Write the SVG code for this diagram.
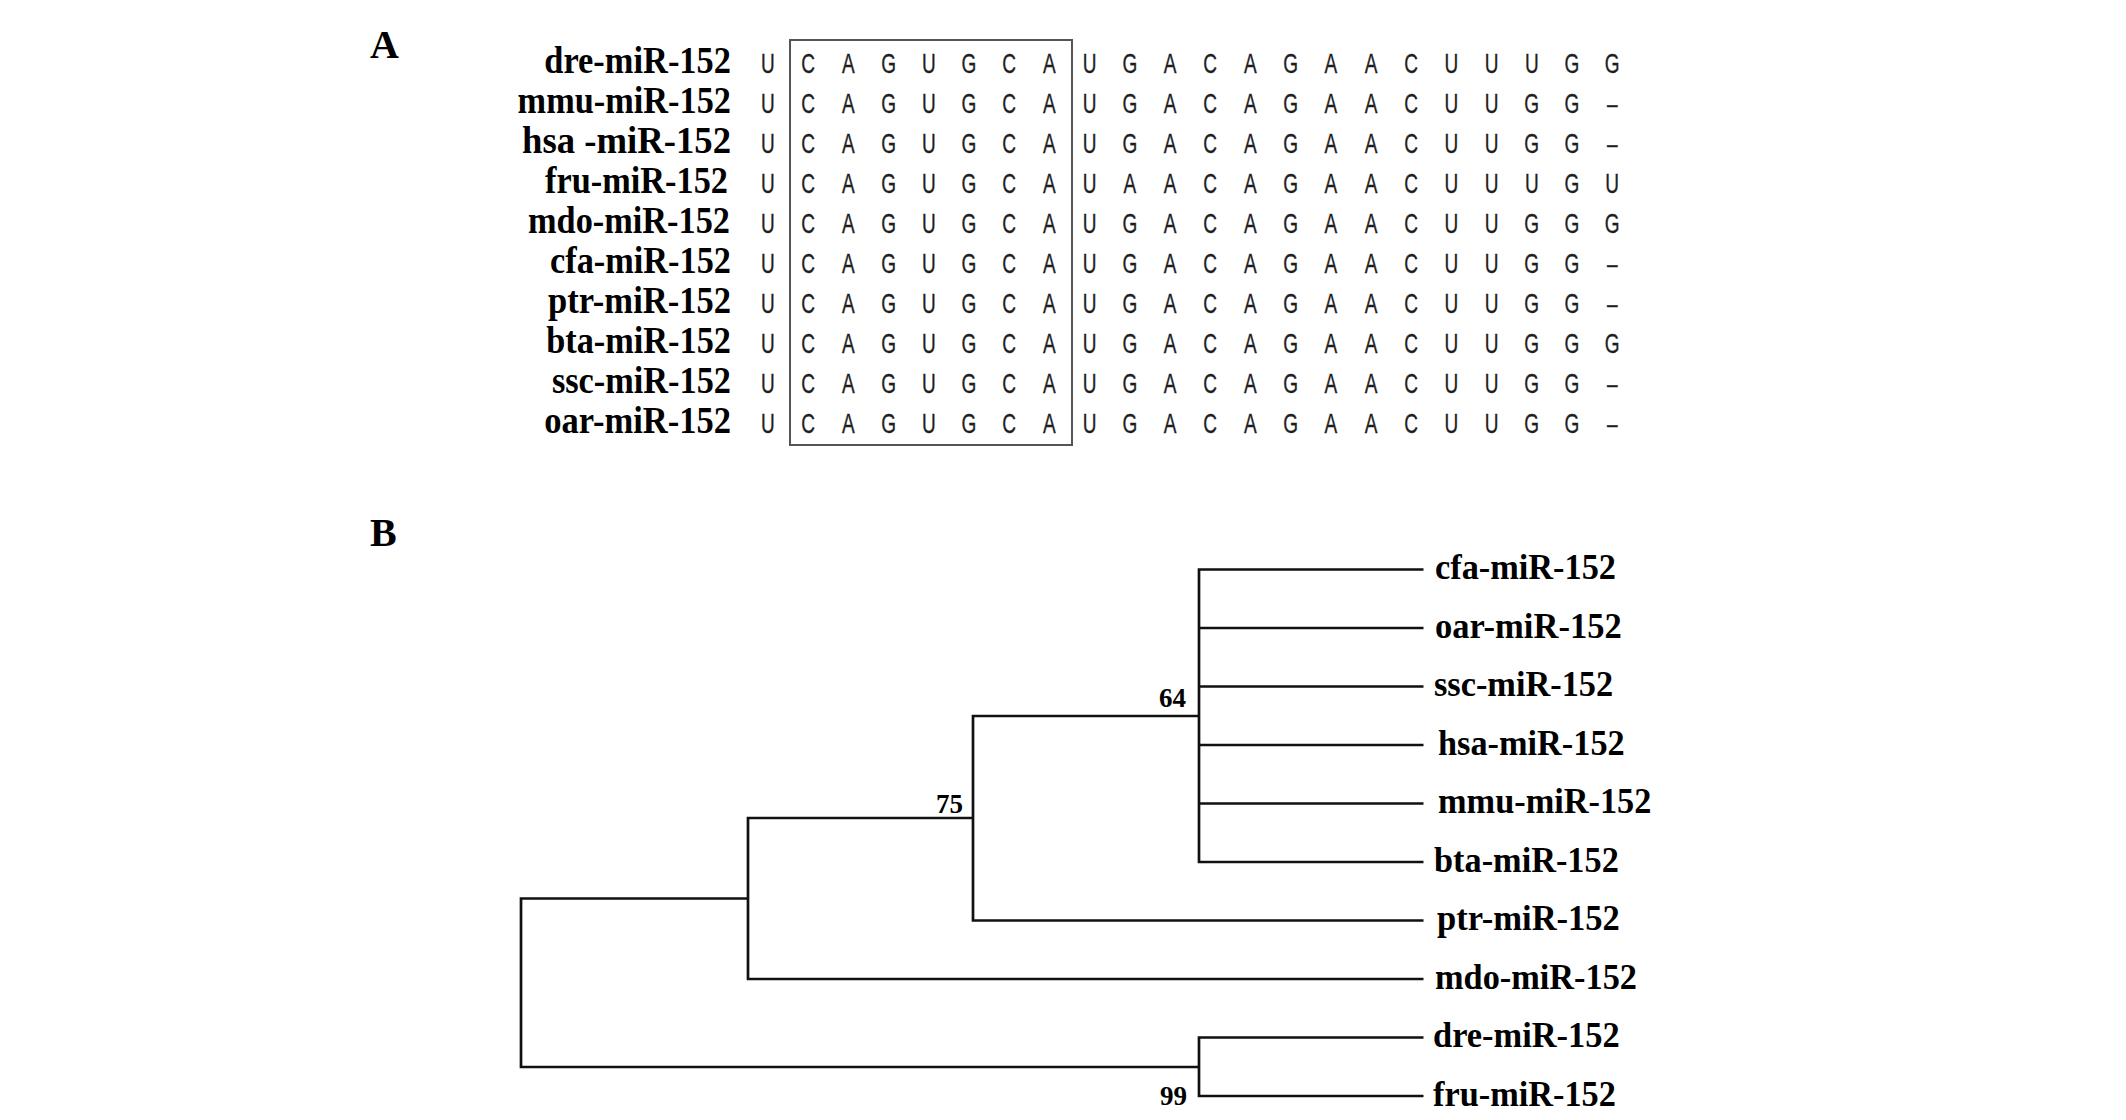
<svg xmlns="http://www.w3.org/2000/svg" width="2126" height="1120" viewBox="0 0 2126 1120">
<style>
.panel{font-family:"Liberation Serif","Times New Roman",serif;font-weight:bold;font-size:40px;fill:#000}
.lab{font-family:"Liberation Serif","Times New Roman",serif;font-weight:bold;fill:#000}
.la{font-size:37px}
.lb{font-size:35px}
.seq{font-family:"Liberation Sans",Arial,sans-serif;font-size:28px;fill:#1e1e1e;stroke:#1e1e1e;stroke-width:0.35;text-anchor:middle}
.bs{font-family:"Liberation Serif","Times New Roman",serif;font-weight:bold;font-size:27px;fill:#000;text-anchor:end}
.br{fill:none;stroke:#111;stroke-width:2.7;stroke-linejoin:miter}
</style>
<rect width="2126" height="1120" fill="#fff"/>
<text class="panel" x="370" y="58">A</text>
<text class="panel" x="370" y="546">B</text>
<g id="alignment-labels" text-anchor="end">
<g id="a-dre"><text class="lab la" x="731" y="73" textLength="186.7" lengthAdjust="spacingAndGlyphs">dre-miR-152</text></g>
<g id="a-mmu"><text class="lab la" x="731" y="113" textLength="213.4" lengthAdjust="spacingAndGlyphs">mmu-miR-152</text></g>
<g id="a-hsa"><text class="lab la" x="731" y="153" textLength="209" lengthAdjust="spacingAndGlyphs">hsa -miR-152</text></g>
<g id="a-fru"><text class="lab la" x="728" y="193" textLength="182.9" lengthAdjust="spacingAndGlyphs">fru-miR-152</text></g>
<g id="a-mdo"><text class="lab la" x="730" y="233" textLength="202" lengthAdjust="spacingAndGlyphs">mdo-miR-152</text></g>
<g id="a-cfa"><text class="lab la" x="731" y="273" textLength="181" lengthAdjust="spacingAndGlyphs">cfa-miR-152</text></g>
<g id="a-ptr"><text class="lab la" x="731" y="313" textLength="182.9" lengthAdjust="spacingAndGlyphs">ptr-miR-152</text></g>
<g id="a-bta"><text class="lab la" x="731" y="353" textLength="184.8" lengthAdjust="spacingAndGlyphs">bta-miR-152</text></g>
<g id="a-ssc"><text class="lab la" x="731" y="393" textLength="179.1" lengthAdjust="spacingAndGlyphs">ssc-miR-152</text></g>
<g id="a-oar"><text class="lab la" x="731" y="433" textLength="186.7" lengthAdjust="spacingAndGlyphs">oar-miR-152</text></g>
</g>
<g id="sequences" transform="scale(0.68 1)">
<text class="seq" y="73" x="1129.4 1188.5 1247.6 1306.8 1365.9 1425.0 1484.1 1543.2 1602.4 1661.5 1720.6 1779.7 1838.8 1897.9 1957.1 2016.2 2075.3 2134.4 2193.5 2252.6 2311.8 2370.9">UCAGUGCAUGACAGAACUUUGG</text>
<text class="seq" y="113" x="1129.4 1188.5 1247.6 1306.8 1365.9 1425.0 1484.1 1543.2 1602.4 1661.5 1720.6 1779.7 1838.8 1897.9 1957.1 2016.2 2075.3 2134.4 2193.5 2252.6 2311.8 2370.9">UCAGUGCAUGACAGAACUUGG–</text>
<text class="seq" y="153" x="1129.4 1188.5 1247.6 1306.8 1365.9 1425.0 1484.1 1543.2 1602.4 1661.5 1720.6 1779.7 1838.8 1897.9 1957.1 2016.2 2075.3 2134.4 2193.5 2252.6 2311.8 2370.9">UCAGUGCAUGACAGAACUUGG–</text>
<text class="seq" y="193" x="1129.4 1188.5 1247.6 1306.8 1365.9 1425.0 1484.1 1543.2 1602.4 1661.5 1720.6 1779.7 1838.8 1897.9 1957.1 2016.2 2075.3 2134.4 2193.5 2252.6 2311.8 2370.9">UCAGUGCAUAACAGAACUUUGU</text>
<text class="seq" y="233" x="1129.4 1188.5 1247.6 1306.8 1365.9 1425.0 1484.1 1543.2 1602.4 1661.5 1720.6 1779.7 1838.8 1897.9 1957.1 2016.2 2075.3 2134.4 2193.5 2252.6 2311.8 2370.9">UCAGUGCAUGACAGAACUUGGG</text>
<text class="seq" y="273" x="1129.4 1188.5 1247.6 1306.8 1365.9 1425.0 1484.1 1543.2 1602.4 1661.5 1720.6 1779.7 1838.8 1897.9 1957.1 2016.2 2075.3 2134.4 2193.5 2252.6 2311.8 2370.9">UCAGUGCAUGACAGAACUUGG–</text>
<text class="seq" y="313" x="1129.4 1188.5 1247.6 1306.8 1365.9 1425.0 1484.1 1543.2 1602.4 1661.5 1720.6 1779.7 1838.8 1897.9 1957.1 2016.2 2075.3 2134.4 2193.5 2252.6 2311.8 2370.9">UCAGUGCAUGACAGAACUUGG–</text>
<text class="seq" y="353" x="1129.4 1188.5 1247.6 1306.8 1365.9 1425.0 1484.1 1543.2 1602.4 1661.5 1720.6 1779.7 1838.8 1897.9 1957.1 2016.2 2075.3 2134.4 2193.5 2252.6 2311.8 2370.9">UCAGUGCAUGACAGAACUUGGG</text>
<text class="seq" y="393" x="1129.4 1188.5 1247.6 1306.8 1365.9 1425.0 1484.1 1543.2 1602.4 1661.5 1720.6 1779.7 1838.8 1897.9 1957.1 2016.2 2075.3 2134.4 2193.5 2252.6 2311.8 2370.9">UCAGUGCAUGACAGAACUUGG–</text>
<text class="seq" y="433" x="1129.4 1188.5 1247.6 1306.8 1365.9 1425.0 1484.1 1543.2 1602.4 1661.5 1720.6 1779.7 1838.8 1897.9 1957.1 2016.2 2075.3 2134.4 2193.5 2252.6 2311.8 2370.9">UCAGUGCAUGACAGAACUUGG–</text>
</g>
<rect id="seed-box" x="790" y="40" width="282" height="405" fill="none" stroke="#555" stroke-width="2"/>
<g id="connectors" class="br">
<path d="M1423.5,569.5 H1199 V862 H1423.5"/>
<path d="M1199,628 H1423.5 M1199,686.5 H1423.5 M1199,745 H1423.5 M1199,803.5 H1423.5"/>
<path d="M1199,716 H973 V920.5 H1423.5"/>
<path d="M973,818 H748 V979 H1423.5"/>
<path d="M748,898.5 H521 V1067 H1199"/>
<path d="M1423.5,1037.5 H1199 V1096 H1423.5"/>
</g>
<g id="bootstrap">
<text class="bs" x="1186" y="707">64</text>
<text class="bs" x="963" y="813">75</text>
<text class="bs" x="1187" y="1105">99</text>
</g>
<g id="tree-labels">
<g id="t-cfa"><text class="lab lb" x="1435" y="579" textLength="181" lengthAdjust="spacingAndGlyphs">cfa-miR-152</text></g>
<g id="t-oar"><text class="lab lb" x="1435" y="637.5" textLength="186.7" lengthAdjust="spacingAndGlyphs">oar-miR-152</text></g>
<g id="t-ssc"><text class="lab lb" x="1434" y="696" textLength="179.1" lengthAdjust="spacingAndGlyphs">ssc-miR-152</text></g>
<g id="t-hsa"><text class="lab lb" x="1438" y="754.5" textLength="186.7" lengthAdjust="spacingAndGlyphs">hsa-miR-152</text></g>
<g id="t-mmu"><text class="lab lb" x="1438" y="813" textLength="213.4" lengthAdjust="spacingAndGlyphs">mmu-miR-152</text></g>
<g id="t-bta"><text class="lab lb" x="1434" y="871.5" textLength="184.8" lengthAdjust="spacingAndGlyphs">bta-miR-152</text></g>
<g id="t-ptr"><text class="lab lb" x="1437" y="930" textLength="182.9" lengthAdjust="spacingAndGlyphs">ptr-miR-152</text></g>
<g id="t-mdo"><text class="lab lb" x="1435" y="988.5" textLength="202" lengthAdjust="spacingAndGlyphs">mdo-miR-152</text></g>
<g id="t-dre"><text class="lab lb" x="1433" y="1047" textLength="186.7" lengthAdjust="spacingAndGlyphs">dre-miR-152</text></g>
<g id="t-fru"><text class="lab lb" x="1433" y="1105.5" textLength="182.9" lengthAdjust="spacingAndGlyphs">fru-miR-152</text></g>
</g>
</svg>
